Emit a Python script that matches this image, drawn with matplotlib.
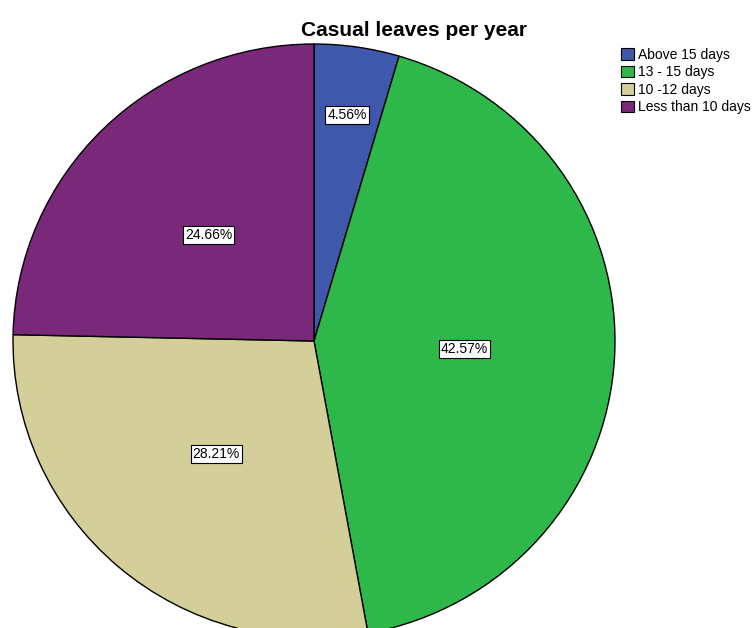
import numpy as np
import matplotlib.pyplot as plt

plt.rcParams["font.family"] = ["Liberation Sans", "DejaVu Sans"]

categories = ["Above 15 days", "13 - 15 days", "10 -12 days", "Less than 10 days"]
shares = [4.56, 42.57, 28.21, 24.66]
colors = ["#3E58AC", "#2EB84A", "#D4CE99", "#7A287A"]

W, H = 755, 628
fig = plt.figure(figsize=(W / 100, H / 100), dpi=100)
ax = fig.add_axes([0, 0, 1, 1])

# pie centre / radii in pixels (slightly squashed vertically)
cx, cy, rx, ry = 314, 341, 301, 297

wedges, texts, autotexts = ax.pie(
    shares,
    colors=colors,
    startangle=90,
    counterclock=False,
    autopct=lambda p: f"{p:.2f}%",
    pctdistance=0.5,
    wedgeprops=dict(edgecolor="black", linewidth=1.0),
    textprops=dict(fontsize=10),
)
ax.set_aspect("auto")
ax.set_xlim(-cx / rx, (W - cx) / rx)
ax.set_ylim((cy - H) / ry, cy / ry)
ax.axis("off")

# small slice gets its label pushed outward
cum = np.cumsum([0] + shares[:-1])
for i, t in enumerate(autotexts):
    t.set_text(f"{shares[i]:.2f}%")
    t.set_bbox(dict(facecolor="white", edgecolor="black", linewidth=0.8, pad=1.5))
    if shares[i] < 10:
        ang = np.deg2rad(90 - (cum[i] + shares[i] / 2) * 3.6)
        t.set_position((0.77 * np.cos(ang), 0.77 * np.sin(ang)))

fig.text(414 / W, 1 - 30 / H, "Casual leaves per year", ha="center", va="center",
         fontsize=15, fontweight="bold")

handles = [plt.Rectangle((0, 0), 1, 1, facecolor=c, edgecolor="black", linewidth=0.8)
           for c in colors]
fig.legend(handles, categories, loc="upper left", bbox_to_anchor=(621 / W, 1 - 48 / H),
           frameon=False, fontsize=10, handlelength=0.9, handleheight=0.9,
           handletextpad=0.3, labelspacing=0.25, borderpad=0, borderaxespad=0)

fig.savefig("out.png", dpi=100)
